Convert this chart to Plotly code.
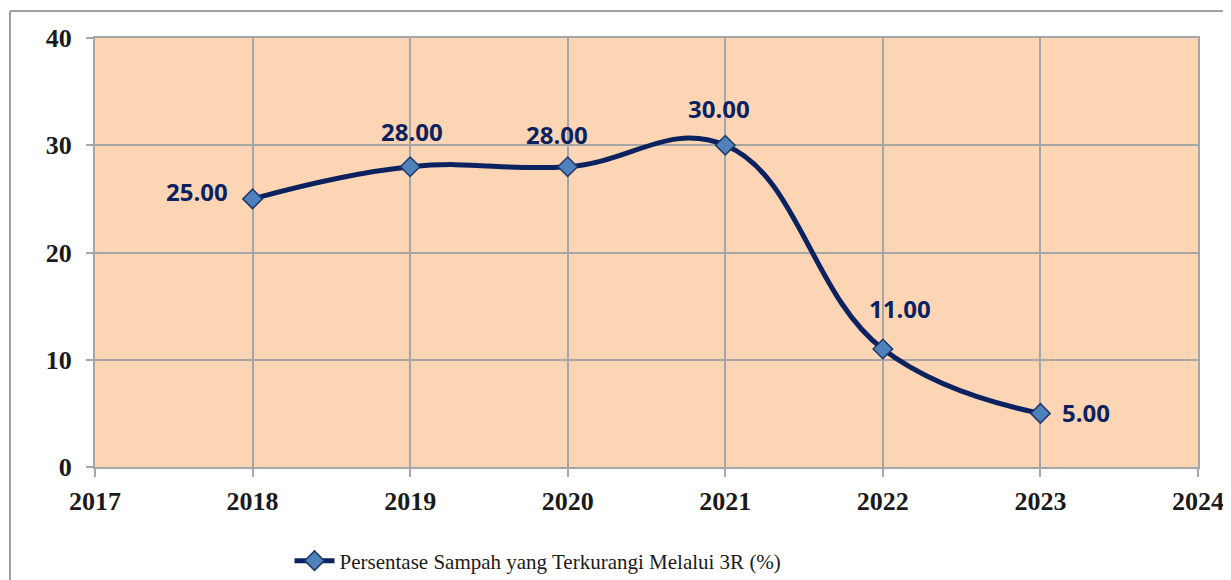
import plotly.graph_objects as go

years = [2018, 2019, 2020, 2021, 2022, 2023]
values = [25.00, 28.00, 28.00, 30.00, 11.00, 5.00]
series_name = "Persentase Sampah yang Terkurangi Melalui 3R (%)"
x_ticks = [2017, 2018, 2019, 2020, 2021, 2022, 2023, 2024]
y_ticks = [0, 10, 20, 30, 40]

# label offsets in pixels (dx, dy up)
label_shift = [(-56, 7), (2, 35), (-11, 32), (-6, 37), (17, 41), (46, 1)]

navy = "#0B2260"
grid = "#A6A6A6"

fig = go.Figure()
fig.add_trace(go.Scatter(
    x=years, y=values, mode="lines+markers", name=series_name,
    line=dict(color=navy, width=5, shape="spline", smoothing=1.2),
    marker=dict(symbol="diamond", size=15, color="#4F81BD",
                line=dict(color="#1F3864", width=1.5)),
))

for xv, yv, (dx, dy) in zip(years, values, label_shift):
    fig.add_annotation(x=xv, y=yv, text=f"{yv:.2f}", showarrow=False,
                       xshift=dx, yshift=dy,
                       font=dict(family="Open Sans", size=24, color=navy, weight="bold"))

axis_font = dict(family="Liberation Serif", size=26, color="#1A1A1A", weight="bold")

fig.update_xaxes(range=[2017, 2024], tickvals=x_ticks, ticktext=[str(t) for t in x_ticks],
                 showgrid=True, gridcolor=grid, gridwidth=1.5,
                 showline=True, linecolor=grid, linewidth=2, mirror=True,
                 ticks="outside", ticklen=8, tickcolor=grid, tickwidth=2,
                 tickfont=axis_font, ticklabelstandoff=2, zeroline=False,
                 automargin=False)
fig.update_yaxes(range=[0, 40], tickvals=y_ticks,
                 showgrid=True, gridcolor=grid, gridwidth=1.5,
                 showline=True, linecolor=grid, linewidth=2, mirror=True,
                 ticks="outside", ticklen=7, tickcolor=grid, tickwidth=2,
                 tickfont=axis_font, ticklabelstandoff=9, zeroline=False,
                 automargin=False)

# page body has an 8px margin: figure sized so it fits the 1231x580 window
OFF = 8
W, H = 1231 - OFF, 580 - OFF
L, R, T, B = 95 - OFF, 33, 38 - OFF, 113
pw, ph = W - L - R, H - T - B

def px_x(p):
    return (p - OFF - L) / pw

def px_y(p):
    return (H - B - (p - OFF)) / ph

# outer chart frame (left and top)
fig.add_shape(type="line", xref="paper", yref="paper",
              x0=px_x(10), x1=px_x(10), y0=px_y(11), y1=px_y(600),
              line=dict(color="#A0A0A0", width=2))
fig.add_shape(type="line", xref="paper", yref="paper",
              x0=px_x(10), x1=px_x(1240), y0=px_y(11), y1=px_y(11),
              line=dict(color="#A0A0A0", width=2))

fig.update_layout(
    width=W, height=H,
    margin=dict(l=L, r=R, t=T, b=B, autoexpand=False),
    paper_bgcolor="white",
    plot_bgcolor="#FCD5B5",
    showlegend=True,
    legend=dict(orientation="h", x=px_x(538), xanchor="center", y=px_y(561), yanchor="middle",
                font=dict(family="Liberation Serif", size=21, color="#1A1A1A"),
                itemwidth=40, bgcolor="rgba(0,0,0,0)"),
)

fig.write_html("out.html")
